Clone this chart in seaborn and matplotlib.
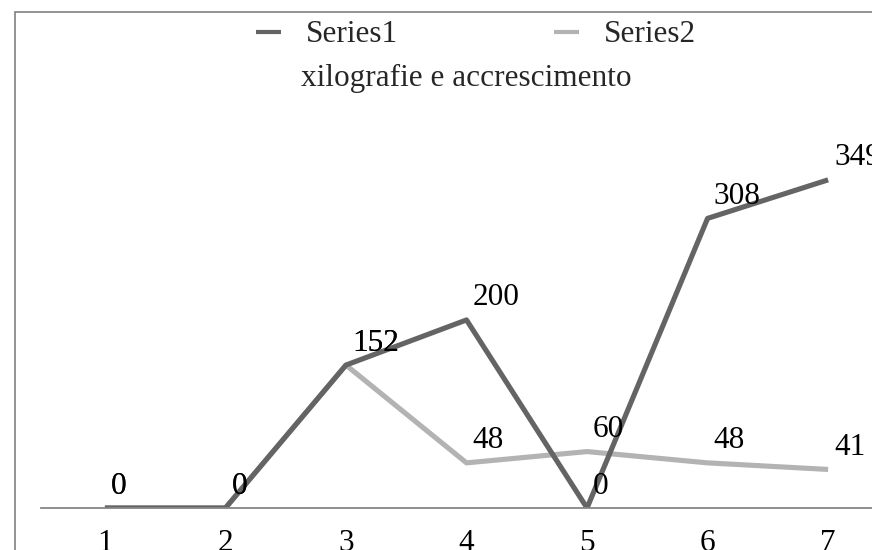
import matplotlib
matplotlib.use("Agg")
import matplotlib.pyplot as plt
import seaborn as sns
import pandas as pd
from matplotlib.patches import Rectangle
from matplotlib.lines import Line2D

categories = [1, 2, 3, 4, 5, 6, 7]
series1 = [0, 0, 152, 200, 0, 308, 349]
series2 = [0, 0, 152, 48, 60, 48, 41]
series_names = ["Series1", "Series2"]
title = "xilografie e accrescimento"

df = pd.DataFrame({
    "x": categories * 2,
    "y": series1 + series2,
    "series": [series_names[0]] * len(categories) + [series_names[1]] * len(categories),
})

sns.set_theme(style="white")
plt.rcParams["font.family"] = ["Liberation Serif", "DejaVu Serif"]

FS = 22.5
W, H = 872, 550
fig = plt.figure(figsize=(W / 100, H / 100), dpi=100)
ax = fig.add_axes([41 / W, (H - 508) / H, 851 / W, (508 - 130) / H])

colors = {"Series1": "#646464", "Series2": "#b3b3b3"}
sns.lineplot(data=df[df.series == "Series2"], x="x", y="y", color=colors["Series2"],
             lw=3.7, ax=ax, legend=False, solid_capstyle="butt")
sns.lineplot(data=df[df.series == "Series1"], x="x", y="y", color=colors["Series1"],
             lw=3.7, ax=ax, legend=False, solid_capstyle="butt")

for vals in (series2, series1):
    for xv, yv in zip(categories, vals):
        ax.annotate(str(yv), (xv, yv), xytext=(4.3, 15.8), textcoords="offset points",
                    ha="left", va="center", fontsize=FS, color="black", annotation_clip=False)

ax.set_xlim(0.47, 7.53)
ax.set_ylim(0, 402)
ax.set_xticks(categories)
ax.set_xticklabels([str(c) for c in categories], fontsize=FS)
ax.set_yticks([])
ax.set_xlabel("")
ax.set_ylabel("")
for s in ("top", "right", "left"):
    ax.spines[s].set_visible(False)
ax.spines["bottom"].set_color("#868686")
ax.spines["bottom"].set_linewidth(1.3)
ax.tick_params(axis="x", length=0, pad=15, colors="black")

fig.text(466 / W, 1 - 78 / H, title, ha="center", va="center", fontsize=FS)

handles = [Line2D([], [], color=colors[n], lw=3, solid_capstyle="butt") for n in series_names]
fig.legend(handles, series_names, loc="center", bbox_to_anchor=(476 / W, 1 - 35 / H),
           ncol=2, frameon=False, fontsize=FS, handlelength=0.8, handletextpad=0.8,
           columnspacing=5.0)

fig.add_artist(Rectangle((15 / W, -0.1), 1.2, (1 - 12 / H) + 0.1, transform=fig.transFigure,
                         fill=False, edgecolor="#8a8a8a", lw=1.3, clip_on=False))

fig.savefig("out.png", dpi=100)
